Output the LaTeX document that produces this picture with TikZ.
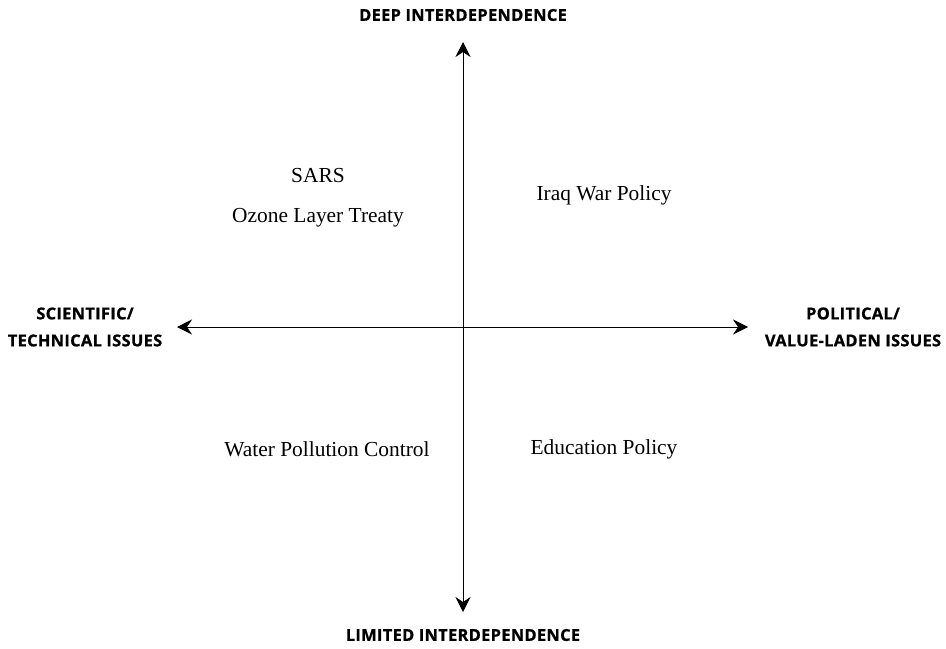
\documentclass[tikz,border=0pt]{standalone}
\usepackage{fontspec}
\setmainfont{Liberation Serif}
\newfontfamily\axisfont[LetterSpace=2, BoldFeatures={FakeBold=0.8}]{Open Sans}
\usetikzlibrary{arrows.meta}

\begin{document}
\begin{tikzpicture}[x=0.5pt, y=-0.5pt]
    % Styles
    \tikzstyle{axis} = [draw, line width=0.5pt, {Stealth[length=7.5pt, width=7.5pt, inset=2.5pt]}-{Stealth[length=7.5pt, width=7.5pt, inset=2.5pt]}]
    \tikzstyle{axislabel} = [align=center, font=\axisfont\bfseries\fontsize{8.2}{13.5}\selectfont, inner sep=0pt]
    \tikzstyle{issue} = [font=\fontsize{10.7}{12}\selectfont, inner sep=0pt]

    \useasboundingbox (0,0) rectangle (946,648);

    % Axis ends
    \coordinate (top) at (463,42);
    \coordinate (bottom) at (463,612);
    \coordinate (left) at (177,327);
    \coordinate (right) at (748,327);

    % Axes
    \draw[axis] (top) -- (bottom);
    \draw[axis] (left) -- (right);

    % Axis labels
    \node[axislabel] (deep) at (463,15) {DEEP INTERDEPENDENCE};
    \node[axislabel] (limited) at (463,635) {LIMITED INTERDEPENDENCE};
    \node[axislabel] (scientific) at (85,327) {SCIENTIFIC/\\TECHNICAL ISSUES};
    \node[axislabel] (political) at (853,327) {POLITICAL/\\VALUE-LADEN ISSUES};

    % Issues in each quadrant
    \node[issue] (sars) at (318,176) {SARS};
    \node[issue] (ozone) at (318,218) {Ozone Layer Treaty};
    \node[issue] (iraq) at (604,195) {Iraq War Policy};
    \node[issue] (water) at (327,449) {Water Pollution Control};
    \node[issue] (education) at (604,449) {Education Policy};
\end{tikzpicture}
\end{document}
